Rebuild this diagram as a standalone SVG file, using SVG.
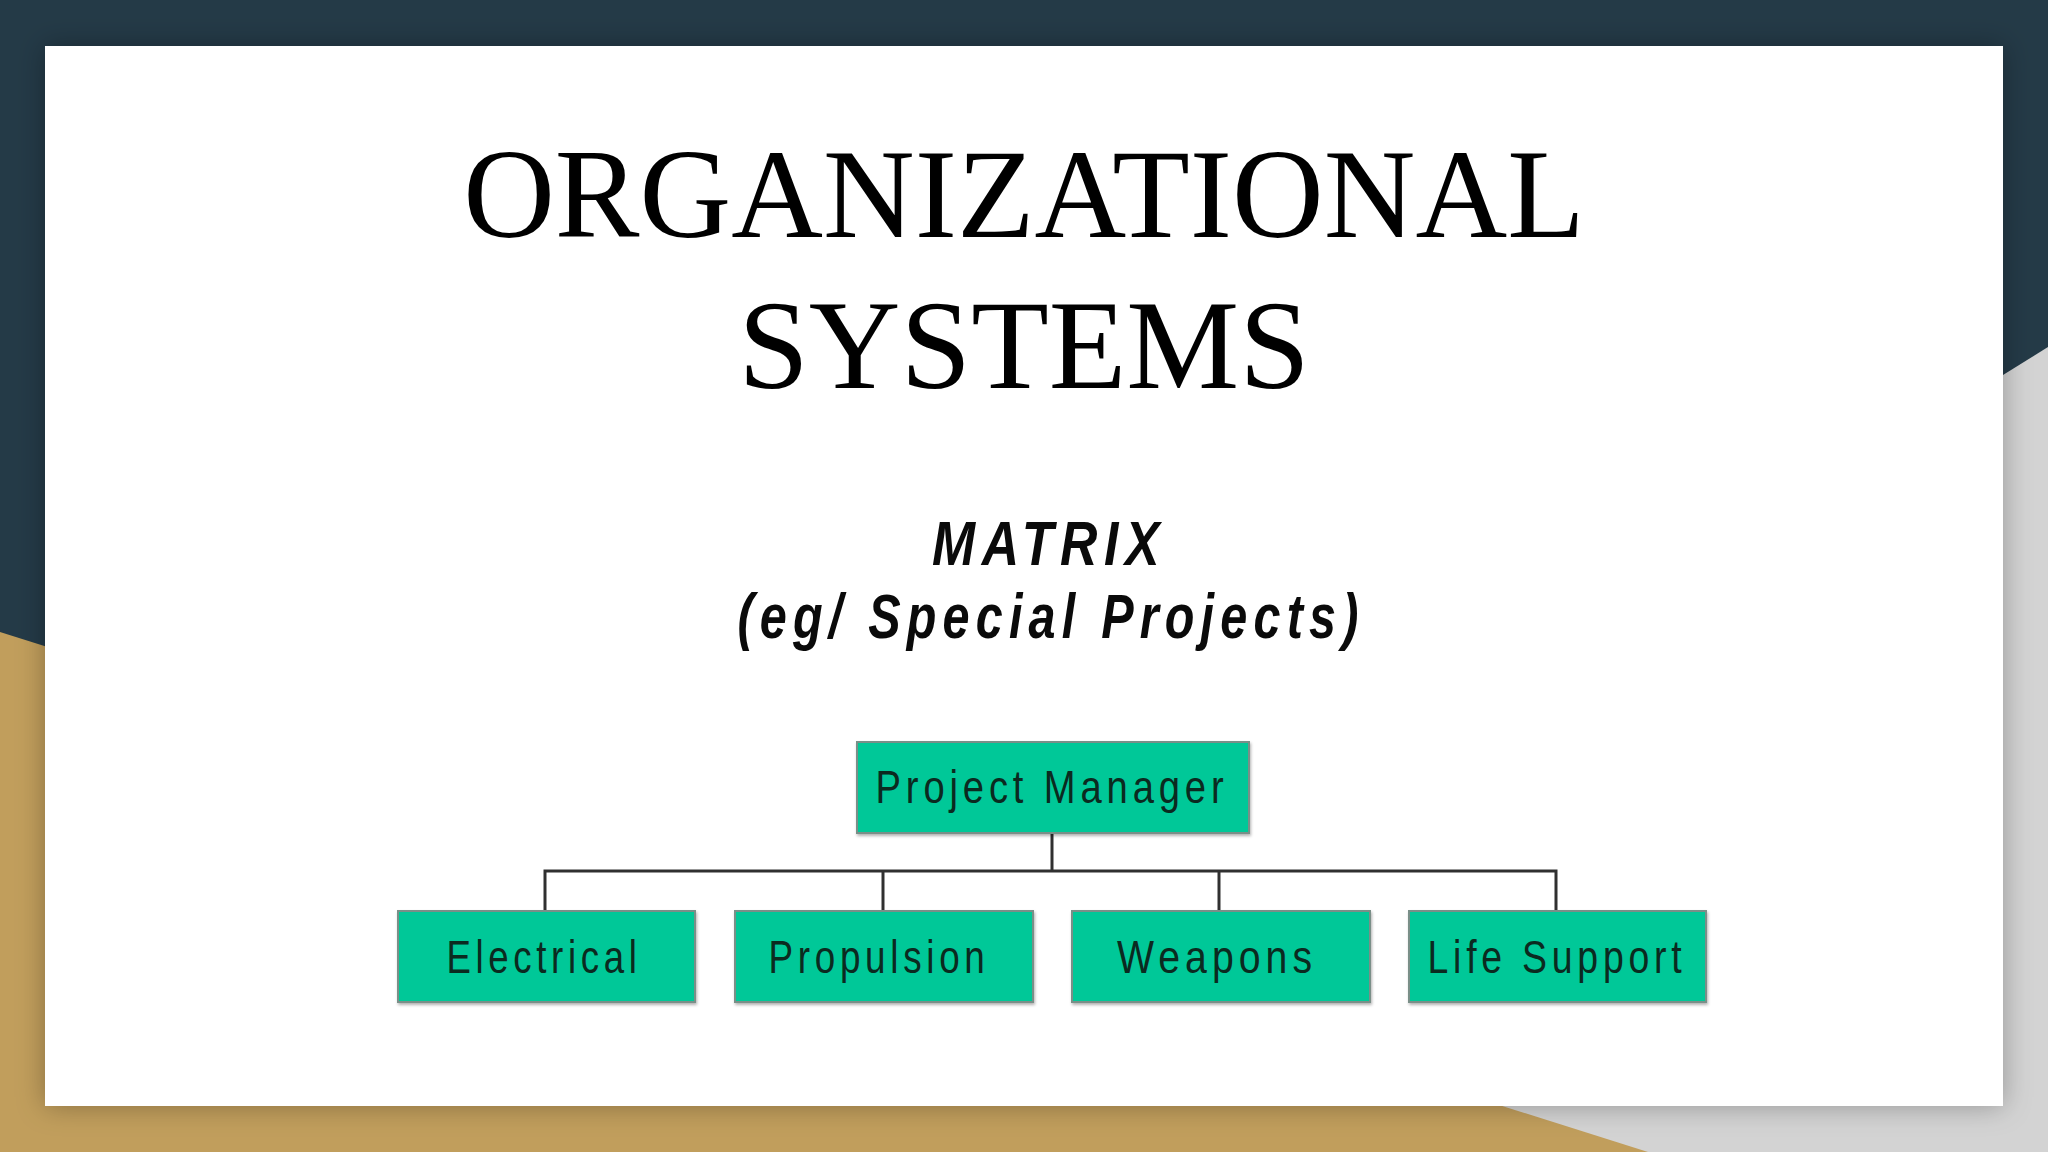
<svg xmlns="http://www.w3.org/2000/svg" width="2048" height="1152" viewBox="0 0 2048 1152">
  <defs>
    <filter id="cardShadow" x="-5%" y="-5%" width="110%" height="110%">
      <feDropShadow dx="0" dy="0" stdDeviation="14" flood-color="#000" flood-opacity="0.3"/>
    </filter>
    <filter id="boxShadow" x="-5%" y="-10%" width="110%" height="125%">
      <feDropShadow dx="1" dy="2" stdDeviation="1.5" flood-color="#000" flood-opacity="0.3"/>
    </filter>
    <style>
      .title { font-family: "Liberation Serif", "Times New Roman", serif; font-size: 127px; fill: #000; text-anchor: middle; }
      .sub { font-family: "Liberation Sans", Arial, sans-serif; font-size: 63px; font-weight: bold; font-style: italic; fill: #0a0a0a; text-anchor: middle; letter-spacing: 8px; }
      .box { fill: #05c898; stroke: #7a8f88; stroke-width: 2; }
      .lbl { font-family: "Liberation Sans", Arial, sans-serif; font-size: 47px; fill: #0b2a20; text-anchor: middle; letter-spacing: 6px; }
      .conn { stroke: #303030; stroke-width: 3; fill: none; }
    </style>
  </defs>

  <!-- background -->
  <rect x="0" y="0" width="2048" height="1152" fill="#243a47"/>
  <polygon points="2048,347 900,1060 900,1152 2048,1152" fill="#d3d3d3"/>
  <polygon points="0,632 1648,1152 0,1152" fill="#c19e5c"/>

  <!-- card -->
  <rect x="45" y="46" width="1958" height="1060" fill="#ffffff" filter="url(#cardShadow)"/>

  <!-- titles -->
  <text class="title" x="1024" y="237">ORGANIZATIONAL</text>
  <text class="title" x="1024" y="388">SYSTEMS</text>

  <text class="sub" x="1049" y="565" textLength="234" lengthAdjust="spacingAndGlyphs">MATRIX</text>
  <text class="sub" x="1051" y="638" textLength="627" lengthAdjust="spacingAndGlyphs">(eg/ Special Projects)</text>

  <!-- connectors -->
  <g id="connectors">
    <line class="conn" x1="1052" y1="833" x2="1052" y2="871"/>
    <polyline class="conn" points="545,911 545,871 1556,871 1556,911"/>
    <line class="conn" x1="883" y1="871" x2="883" y2="911"/>
    <line class="conn" x1="1219" y1="871" x2="1219" y2="911"/>
  </g>

  <!-- nodes -->
  <g id="project-manager">
    <rect class="box" x="857" y="742" width="392" height="91" filter="url(#boxShadow)"/>
    <text class="lbl" x="1052" y="803" textLength="353" lengthAdjust="spacingAndGlyphs">Project Manager</text>
  </g>
  <g id="electrical">
    <rect class="box" x="398" y="911" width="297" height="91" filter="url(#boxShadow)"/>
    <text class="lbl" x="544" y="973" textLength="195" lengthAdjust="spacingAndGlyphs">Electrical</text>
  </g>
  <g id="propulsion">
    <rect class="box" x="735" y="911" width="298" height="91" filter="url(#boxShadow)"/>
    <text class="lbl" x="879" y="973" textLength="221" lengthAdjust="spacingAndGlyphs">Propulsion</text>
  </g>
  <g id="weapons">
    <rect class="box" x="1072" y="911" width="298" height="91" filter="url(#boxShadow)"/>
    <text class="lbl" x="1217" y="973" textLength="200" lengthAdjust="spacingAndGlyphs">Weapons</text>
  </g>
  <g id="life-support">
    <rect class="box" x="1409" y="911" width="297" height="91" filter="url(#boxShadow)"/>
    <text class="lbl" x="1557" y="973" textLength="259" lengthAdjust="spacingAndGlyphs">Life Support</text>
  </g>
</svg>
